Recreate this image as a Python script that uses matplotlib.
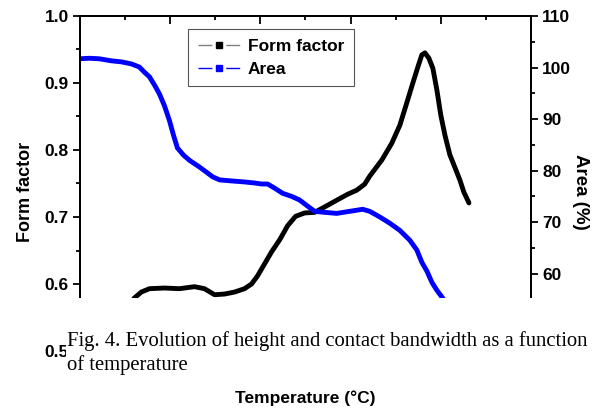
import matplotlib
matplotlib.use('Agg')
import matplotlib.pyplot as plt
from matplotlib.patches import Rectangle
from matplotlib.lines import Line2D
from matplotlib.ticker import MultipleLocator, FuncFormatter

plt.rcParams['font.family'] = ['Liberation Sans', 'DejaVu Sans']

# Form factor (left axis)
ff_temp = [26.3, 30.1, 34.0, 38.5, 46.8, 55.1, 63.5, 69.0, 74.6, 80.1, 85.7, 91.2,
           95.1, 98.4, 102.3, 106.2, 110.7, 115.1, 119.5, 124.5, 130.1, 135.6, 142.3,
           148.4, 153.4, 157.8, 160.6, 167.3, 172.8, 177.3, 181.1, 184.5, 187.3, 189.5,
           191.2, 193.4, 195.6, 197.8, 200.0, 202.3, 205.0, 208.4, 210.6, 212.8, 215.6]
ff_val = [0.564, 0.579, 0.588, 0.593, 0.594, 0.593, 0.596, 0.593, 0.584, 0.585, 0.588, 0.593,
          0.600, 0.612, 0.630, 0.648, 0.666, 0.687, 0.701, 0.706, 0.707, 0.715, 0.725,
          0.734, 0.740, 0.749, 0.761, 0.785, 0.810, 0.837, 0.870, 0.900, 0.924, 0.942,
          0.945, 0.937, 0.922, 0.890, 0.852, 0.822, 0.793, 0.770, 0.755, 0.737, 0.721]

# Area in % (right axis)
area_temp = [0, 5.2, 10.7, 17.4, 23.0, 28.5, 32.9, 35.7, 38.5, 41.3, 44.0, 46.8, 49.6,
             51.8, 54.0, 57.4, 60.7, 66.2, 70.1, 73.5, 77.4, 84.0, 91.2, 96.8, 100.7,
             104.0, 107.9, 112.3, 117.3, 121.7, 126.2, 130.1, 135.6, 142.3, 149.5, 156.7,
             160.6, 166.2, 171.7, 177.3, 182.8, 186.7, 189.5, 192.3, 195.1, 197.8, 201.2, 205.0]
area_val = [101.7, 101.8, 101.7, 101.3, 101.1, 100.7, 100.1, 99.1, 98.2, 96.6, 94.9, 92.6, 89.7,
            86.9, 84.4, 83.0, 82.0, 80.7, 79.7, 78.8, 78.2, 78.0, 77.8, 77.6, 77.4,
            77.4, 76.6, 75.6, 75.0, 74.3, 73.1, 72.1, 71.9, 71.7, 72.1, 72.5,
            72.1, 71.0, 69.8, 68.4, 66.5, 64.6, 62.2, 60.5, 58.3, 56.8, 55.2, 52.9]

fig = plt.figure(figsize=(6.05, 4.09), dpi=100)
ax = fig.add_axes([0.1322, 0.1418, 0.7455, 0.8191])
ax2 = ax.twinx()

ax.plot(ff_temp, ff_val, color='black', lw=3.5, solid_capstyle='round')
ax2.plot(area_temp, area_val, color='#0000ff', lw=3.5, solid_capstyle='round')

ax.set_xlim(0, 250)
ax.set_ylim(0.5, 1.0)
ax2.set_ylim(45, 110)

ax.xaxis.set_major_locator(MultipleLocator(50))
ax.xaxis.set_minor_locator(MultipleLocator(25))
ax.yaxis.set_major_locator(MultipleLocator(0.1))
ax.yaxis.set_minor_locator(MultipleLocator(0.05))
ax2.yaxis.set_major_locator(MultipleLocator(10))
ax2.yaxis.set_minor_locator(MultipleLocator(5))
ax.yaxis.set_major_formatter(plt.FormatStrFormatter('%.1f'))
# the 50 label is covered by the caption in the original
ax2.yaxis.set_major_formatter(FuncFormatter(lambda v, p: '' if v < 55 else '%d' % v))

# x tick labels sit under the caption box in the original, so leave them off
ax.tick_params(axis='x', which='both', direction='in', top=True, bottom=True,
               labelbottom=False)
ax.tick_params(axis='x', which='major', length=6, width=1.3)
ax.tick_params(axis='x', which='minor', length=3, width=1.3)
ax.tick_params(axis='y', which='major', direction='out', length=5, width=1.3,
               labelsize=12.5, pad=3)
ax.tick_params(axis='y', which='minor', direction='out', length=3, width=1.3)
ax2.tick_params(axis='y', which='major', direction='out', length=5, width=1.3,
                labelsize=12.5, pad=3)
ax2.tick_params(axis='y', which='minor', direction='out', length=3, width=1.3)
for a in (ax, ax2):
    for lab in a.get_yticklabels():
        lab.set_fontweight('bold')
    for sp in a.spines.values():
        sp.set_linewidth(1.4)

ax.set_ylabel('Form factor', fontsize=13, fontweight='bold')
ax.yaxis.set_label_coords(-0.102, 0.475)
ax2.set_ylabel('Area (%)', fontsize=13.5, fontweight='bold', rotation=270, va='bottom')
ax2.yaxis.set_label_coords(1.091, 0.475)

# legend
h1 = Line2D([], [], color='gray', lw=1, linestyle=(0, (10, 10)),
            marker='s', markersize=4, markerfacecolor='black', markeredgecolor='black')
h2 = Line2D([], [], color='#0000ff', lw=1, linestyle=(0, (10, 10)),
            marker='s', markersize=4, markerfacecolor='#0000ff', markeredgecolor='#0000ff')
leg = fig.legend([h1, h2], ['Form factor', 'Area'], loc='upper left',
                 bbox_to_anchor=(188 / 605, 1 - 29 / 409), numpoints=1,
                 handlelength=2.5, fancybox=False, framealpha=1, edgecolor='#555555',
                 prop={'weight': 'bold', 'size': 12.5}, borderpad=0.55,
                 labelspacing=0.45, handletextpad=0.4, borderaxespad=0)
leg.get_frame().set_linewidth(0.8)

# caption box overlapping the bottom of the plot
fig.add_artist(Rectangle((66 / 605, 1 - 386 / 409), 1, (386 - 298) / 409,
                         transform=fig.transFigure, facecolor='white',
                         edgecolor='none', zorder=5))
fig.text(67 / 605, 1 - 353 / 409,
         'Fig. 4. Evolution of height and contact bandwidth as a function\nof temperature',
         family='Liberation Serif', fontsize=14.9, va='center', ha='left',
         linespacing=1.3, zorder=6)

fig.text(305 / 605, 1 - 398 / 409, 'Temperature (°C)', fontsize=12.5,
         fontweight='bold', ha='center', va='center')

fig.savefig('out.png', dpi=100)
